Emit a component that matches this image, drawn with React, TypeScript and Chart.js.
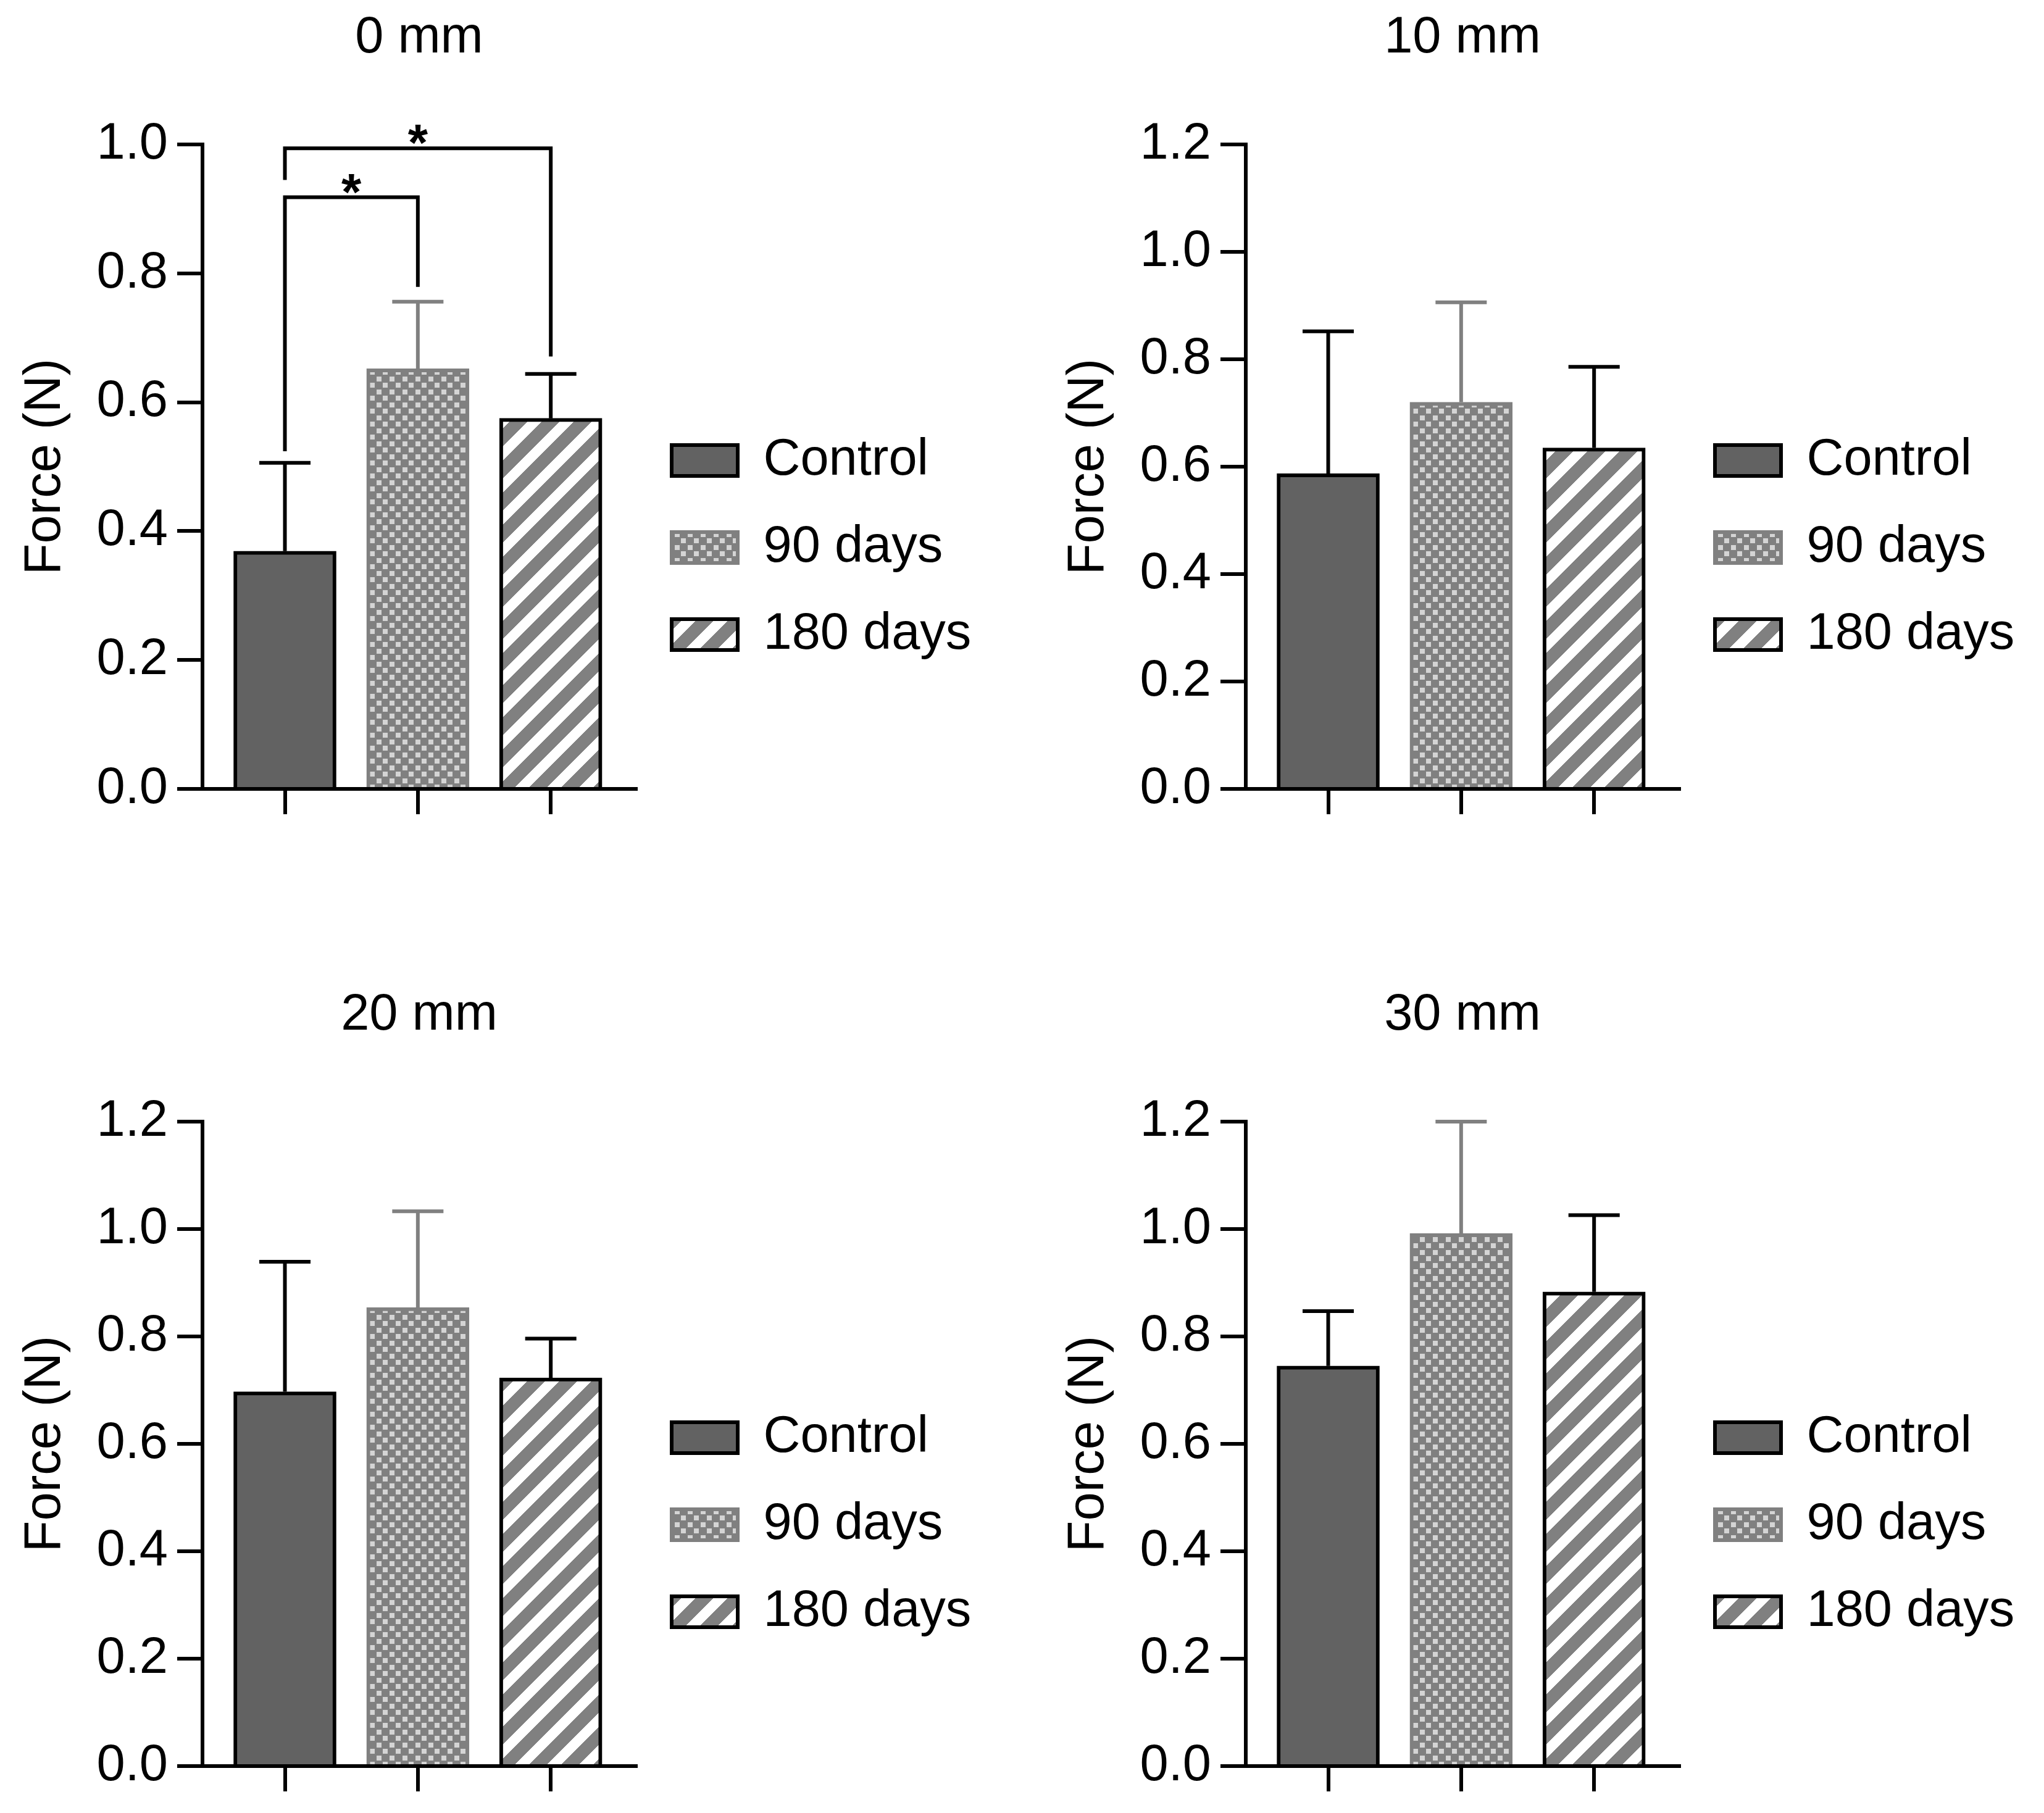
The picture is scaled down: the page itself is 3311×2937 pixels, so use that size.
import { useEffect, useRef } from "react";
import { Chart, registerables } from "chart.js";

Chart.register(...registerables);

const GROUPS = ["Control", "90 days", "180 days"];
const PANEL_TITLES = ["0 mm", "10 mm", "20 mm", "30 mm"];
const Y_MAX = [1.0, 1.2, 1.2, 1.2];
const Y_STEP = 0.2;
const Y_TITLE = "Force (N)";

// mean force (N) per group, one array per distance
const MEAN_0 = [0.369, 0.652, 0.575];
const MEAN_10 = [0.587, 0.72, 0.635];
const MEAN_20 = [0.697, 0.854, 0.723];
const MEAN_30 = [0.745, 0.992, 0.883];

// SD, only the upper whisker is drawn
const SD_0 = [0.137, 0.104, 0.069];
const SD_10 = [0.265, 0.186, 0.151];
const SD_20 = [0.242, 0.179, 0.073];
const SD_30 = [0.102, 0.208, 0.143];

// significance brackets (0 mm panel only)
const SIG_FROM = [0, 0];
const SIG_TO = [1, 2];
const SIG_LEVEL = [0.918, 0.994];
const SIG_LEFT_END = [0.524, 0.945];
const SIG_RIGHT_END = [0.779, 0.671];
const SIG_LABEL = ["*", "*"];

const MEANS = [MEAN_0, MEAN_10, MEAN_20, MEAN_30];
const SDS = [SD_0, SD_10, SD_20, SD_30];

const FONT = "'Liberation Sans', Arial, sans-serif";
const FS = 83;
const LW = 6;
const PANEL_DX = 1690;
const PANEL_DY = 1583;
const CANVAS_H = 1774;
const AREA_RIGHT = 1030; // where the x axis line stops
const AXIS_BOTTOM = 1278;
const LEG_PAD = 58;
const BOX_W = 107;
const BOX_H = 50;

const DARK = "#626262";
const MID = "#808080";
const LIGHT = "#d4d4d4";
const BORDERS = ["#000000", MID, "#000000"];
const WHISKERS = ["#000000", MID, "#000000"];

Chart.defaults.font.family = FONT;
Chart.defaults.font.size = FS;
Chart.defaults.color = "#000";

// width the legend box will take, so the plot area ends at AREA_RIGHT
function legendWidth() {
  const m = document.createElement("canvas").getContext("2d")!;
  m.font = `normal ${FS}px ${FONT}`;
  const tw = Math.max(...GROUPS.map((g) => m.measureText(g).width));
  return LEG_PAD + BOX_W + FS / 2 + tw + 10;
}

function checker(ctx: CanvasRenderingContext2D) {
  const c = document.createElement("canvas");
  c.width = 21;
  c.height = 21;
  const g = c.getContext("2d")!;
  g.fillStyle = MID;
  g.fillRect(0, 0, 21, 21);
  g.fillStyle = LIGHT;
  g.fillRect(1, 1, 8, 8);
  g.fillRect(11, 11, 8, 8);
  return ctx.createPattern(c, "repeat")!;
}

function stripes(ctx: CanvasRenderingContext2D) {
  const n = 52;
  const c = document.createElement("canvas");
  c.width = n;
  c.height = n;
  const g = c.getContext("2d")!;
  const img = g.createImageData(n, n);
  for (let y = 0; y < n; y++) {
    for (let x = 0; x < n; x++) {
      const v = (x + y) % n < 29 ? 128 : 255;
      const k = (y * n + x) * 4;
      img.data[k] = v;
      img.data[k + 1] = v;
      img.data[k + 2] = v;
      img.data[k + 3] = 255;
    }
  }
  g.putImageData(img, 0, 0);
  return ctx.createPattern(c, "repeat")!;
}

function errorBarPlugin(means: number[], sds: number[]) {
  return {
    id: "errorBars",
    afterDatasetsDraw(chart: any) {
      const { ctx, scales } = chart;
      const x = scales.x;
      const y = scales.y;
      ctx.save();
      ctx.lineWidth = LW;
      ctx.lineCap = "butt";
      means.forEach((m, i) => {
        const cx = x.getPixelForValue(i);
        const base = y.getPixelForValue(m);
        const top = y.getPixelForValue(m + sds[i]);
        ctx.strokeStyle = WHISKERS[i];
        ctx.beginPath();
        ctx.moveTo(cx, base);
        ctx.lineTo(cx, top);
        ctx.moveTo(cx - 41.5, top);
        ctx.lineTo(cx + 41.5, top);
        ctx.stroke();
      });
      ctx.restore();
    },
  };
}

const bracketPlugin = {
  id: "brackets",
  afterDatasetsDraw(chart: any) {
    const { ctx, scales } = chart;
    const x = scales.x;
    const y = scales.y;
    ctx.save();
    ctx.lineWidth = LW;
    ctx.lineJoin = "miter";
    ctx.strokeStyle = "#000";
    ctx.fillStyle = "#000";
    ctx.font = `bold ${FS}px ${FONT}`;
    ctx.textAlign = "center";
    ctx.textBaseline = "alphabetic";
    SIG_FROM.forEach((from, i) => {
      const x1 = x.getPixelForValue(from);
      const x2 = x.getPixelForValue(SIG_TO[i]);
      const yl = y.getPixelForValue(SIG_LEVEL[i]);
      ctx.beginPath();
      ctx.moveTo(x1, y.getPixelForValue(SIG_LEFT_END[i]));
      ctx.lineTo(x1, yl);
      ctx.lineTo(x2, yl);
      ctx.lineTo(x2, y.getPixelForValue(SIG_RIGHT_END[i]));
      ctx.stroke();
      ctx.fillText(SIG_LABEL[i], (x1 + x2) / 2, yl + 20);
    });
    ctx.restore();
  },
};

function Panel({ idx }: { idx: number }) {
  const ref = useRef<HTMLCanvasElement | null>(null);
  const width = Math.ceil(AREA_RIGHT + legendWidth());

  useEffect(() => {
    const canvas = ref.current;
    if (!canvas) return;
    const ctx = canvas.getContext("2d");
    if (!ctx) return;

    const fills: any[] = [DARK, checker(ctx), stripes(ctx)];
    const means = MEANS[idx];
    const sds = SDS[idx];
    const plugins: any[] = [errorBarPlugin(means, sds)];
    if (idx === 0) plugins.push(bracketPlugin);

    const chart = new Chart(ctx, {
      type: "bar",
      data: {
        datasets: [
          {
            label: Y_TITLE,
            data: means.map((v, i) => ({ x: i, y: v })) as any,
            backgroundColor: fills,
            borderColor: BORDERS,
            borderWidth: LW,
            borderSkipped: "start",
            barThickness: 166,
          },
        ],
      },
      options: {
        responsive: false,
        animation: false,
        devicePixelRatio: 1,
        events: [],
        layout: { padding: { left: 0, top: 0, right: width - AREA_RIGHT - legendWidth(), bottom: 0 } },
        plugins: {
          tooltip: { enabled: false },
          title: {
            display: true,
            text: PANEL_TITLES[idx],
            fullSize: false,
            color: "#000",
            font: { size: FS, weight: "normal" },
            padding: { top: 12, bottom: 122.4 },
          },
          legend: {
            display: true,
            position: "right",
            align: "center",
            maxWidth: 5000,
            labels: {
              boxWidth: BOX_W,
              boxHeight: BOX_H,
              padding: LEG_PAD,
              color: "#000",
              font: { size: FS },
              generateLabels: () =>
                GROUPS.map((g, i) => ({
                  text: g,
                  fillStyle: fills[i],
                  strokeStyle: BORDERS[i],
                  lineWidth: LW,
                  hidden: false,
                  datasetIndex: 0,
                  index: i,
                })),
            },
          },
        },
        scales: {
          x: {
            type: "linear",
            min: -0.62,
            max: 2.64,
            offset: false,
            afterBuildTicks: (s: any) => {
              s.ticks = GROUPS.map((_, i) => ({ value: i }));
            },
            afterFit: (s: any) => {
              s.height = CANVAS_H - AXIS_BOTTOM;
            },
            ticks: { display: false },
            grid: {
              offset: false,
              drawOnChartArea: false,
              drawTicks: true,
              tickLength: 41,
              lineWidth: LW,
              color: "#000",
            },
            border: { display: true, color: "#000", width: LW, z: 1 },
          },
          y: {
            min: 0,
            max: Y_MAX[idx],
            afterFit: (s: any) => {
              s.width = 328;
            },
            ticks: {
              stepSize: Y_STEP,
              padding: 15,
              color: "#000",
              font: { size: FS },
              callback: (v: any) => Number(v).toFixed(1),
            },
            grid: {
              offset: false,
              drawOnChartArea: false,
              drawTicks: true,
              tickLength: 41,
              lineWidth: LW,
              color: "#000",
            },
            border: { display: true, color: "#000", width: LW, z: 1 },
            title: {
              display: true,
              text: Y_TITLE,
              color: "#000",
              font: { size: FS },
              padding: { top: 24, bottom: 0 },
            },
          },
        },
      },
      plugins,
    } as any);

    return () => chart.destroy();
  }, [idx]);

  return (
    <canvas
      ref={ref}
      width={width}
      height={CANVAS_H}
      style={{
        position: "absolute",
        left: (idx % 2) * PANEL_DX,
        top: Math.floor(idx / 2) * PANEL_DY,
        width,
        height: CANVAS_H,
      }}
    />
  );
}

export default function App() {
  useEffect(() => {
    document.body.style.margin = "0";
  }, []);

  return (
    <div
      style={{
        position: "relative",
        width: 3311,
        height: 2937,
        overflow: "hidden",
        background: "#fff",
      }}
    >
      {PANEL_TITLES.map((t, i) => (
        <Panel key={t} idx={i} />
      ))}
    </div>
  );
}
